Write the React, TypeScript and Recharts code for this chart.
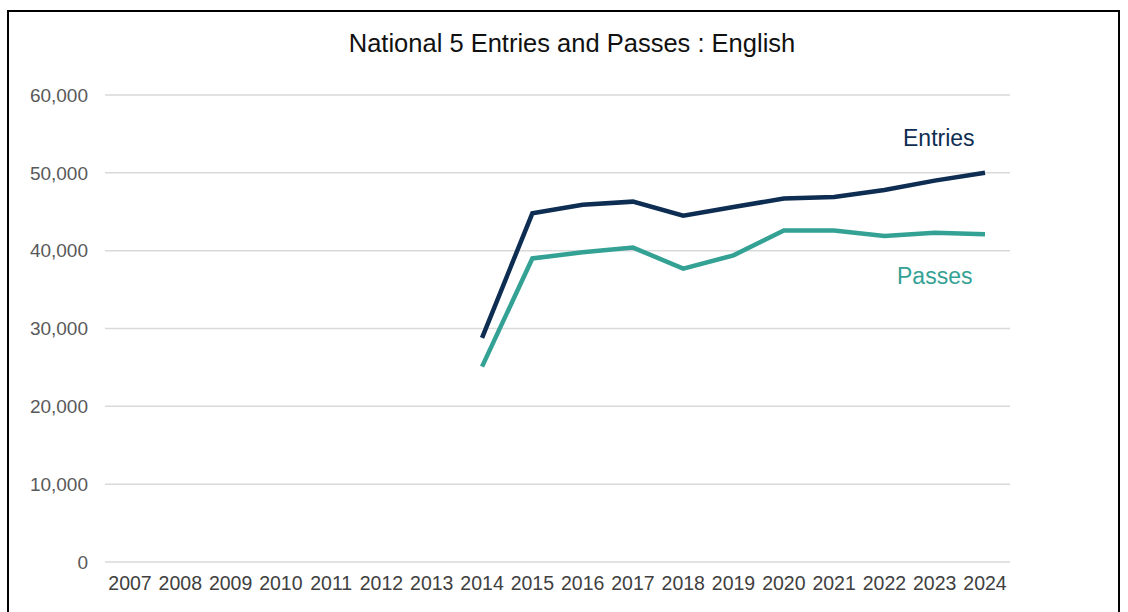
import { LineChart, Line, XAxis, YAxis, CartesianGrid } from "recharts";

const years = ["2007", "2008", "2009", "2010", "2011", "2012", "2013", "2014", "2015", "2016", "2017", "2018", "2019", "2020", "2021", "2022", "2023", "2024"];
const entries = [null, null, null, null, null, null, null, 28800, 44800, 45900, 46300, 44500, 45600, 46700, 46900, 47800, 49000, 50000];
const passes = [null, null, null, null, null, null, null, 25100, 39000, 39800, 40400, 37700, 39400, 42600, 42600, 41900, 42300, 42100];
const yTicks = [0, 10000, 20000, 30000, 40000, 50000, 60000];

const data = years.map((year, i) => ({ year, entries: entries[i], passes: passes[i] }));

const FONT = "'Liberation Sans', Arial, sans-serif";
const ENTRIES_COLOR = "#0e2d52";
const PASSES_COLOR = "#34a195";

export default function App() {
    return (
        <div style={{ position: "absolute", left: 0, top: 0, width: 1128, height: 612, overflow: "hidden", background: "#fff", fontFamily: FONT }}>
            <div style={{ position: "absolute", left: 7, top: 10, width: 1109, height: 640, border: "2px solid #000" }} />
            <div style={{ position: "absolute", left: 0, top: 29, width: 1144, textAlign: "center", fontSize: 25.5, color: "#111" }}>
                National 5 Entries and Passes : English
            </div>
            <div style={{ position: "absolute", left: 903, top: 125, fontSize: 23, color: ENTRIES_COLOR }}>Entries</div>
            <div style={{ position: "absolute", left: 897, top: 263, fontSize: 23, color: PASSES_COLOR }}>Passes</div>
            <div style={{ position: "absolute", left: 0, top: 0 }}>
                <LineChart width={1128} height={612} data={data} margin={{ top: 95, right: 118, bottom: 20, left: 10 }}>
                    <CartesianGrid vertical={false} stroke="#d9d9d9" strokeWidth={1.5} />
                    <XAxis
                        dataKey="year"
                        axisLine={false}
                        tickLine={false}
                        tickSize={0}
                        tickMargin={14}
                        height={30}
                        interval={0}
                        padding={{ left: 25, right: 25 }}
                        tick={{ fill: "#404040", fontSize: 19.5, fontFamily: FONT }}
                    />
                    <YAxis
                        domain={[0, 60000]}
                        ticks={yTicks}
                        width={95}
                        axisLine={false}
                        tickLine={false}
                        tickSize={0}
                        tickMargin={17}
                        tickFormatter={(v: number) => v.toLocaleString("en-US")}
                        tick={{ fill: "#595959", fontSize: 19, fontFamily: FONT }}
                    />
                    <Line type="linear" dataKey="entries" stroke={ENTRIES_COLOR} strokeWidth={4.5} dot={false} isAnimationActive={false} />
                    <Line type="linear" dataKey="passes" stroke={PASSES_COLOR} strokeWidth={4.5} dot={false} isAnimationActive={false} />
                </LineChart>
            </div>
        </div>
    );
}
